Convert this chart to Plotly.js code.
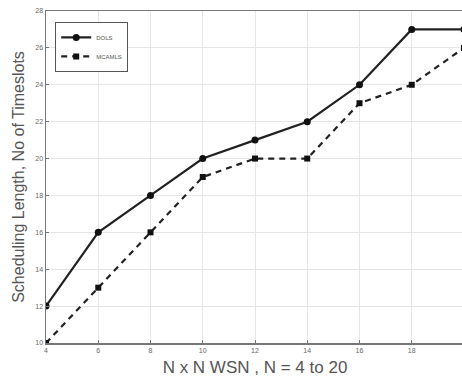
<!DOCTYPE html>
<html><head><meta charset="utf-8">
<script src="https://cdn.plot.ly/plotly-3.0.1.min.js"></script>
<style>html,body{margin:0;padding:0;background:#fff;overflow:hidden}</style>
</head><body><div id="chart" style="width:462px;height:383px;overflow:hidden"></div>
<script>
const nValues = [4, 6, 8, 10, 12, 14, 16, 18, 20];
const dols = [12, 16, 18, 20, 21, 22, 24, 27, 27];
const mcamls = [10, 13, 16, 19, 20, 20, 23, 24, 26];
const seriesNames = ['DOLS', 'MCAMLS'];
const xTicks = [4, 6, 8, 10, 12, 14, 16, 18, 20];
const yTicks = [10, 12, 14, 16, 18, 20, 22, 24, 26, 28];

const traces = [
  {x: nValues, y: dols, name: seriesNames[0], mode: 'lines+markers', type: 'scatter',
   line: {color: '#222', width: 2.2}, marker: {color: '#111', size: 7, symbol: 'circle'}},
  {x: nValues, y: mcamls, name: seriesNames[1], mode: 'lines+markers', type: 'scatter',
   line: {color: '#222', width: 2.2, dash: '6px,5px'}, marker: {color: '#111', size: 6, symbol: 'square'}}
];
const layout = {
  width: 464, height: 383,
  margin: {l: 46, r: 0, t: 11, b: 40},
  paper_bgcolor: '#fff', plot_bgcolor: '#fff',
  font: {family: 'Liberation Sans, Arial, sans-serif', color: '#444'},
  showlegend: true,
  legend: {x: 0.022, y: 0.967, xanchor: 'left', yanchor: 'top', bgcolor: '#fff',
           bordercolor: '#555', borderwidth: 1, font: {size: 6, color: '#555'},
           tracegroupgap: 0, itemwidth: 30},
  xaxis: {range: [4, 20], tickvals: xTicks, ticktext: xTicks.map(String),
          tickfont: {size: 7, color: '#666'}, showgrid: true, gridcolor: '#e6e6e6',
          showline: true, linecolor: '#777', linewidth: 1.5, mirror: true,
          ticks: 'inside', ticklen: 3, tickcolor: '#777', zeroline: false,
          title: {text: 'N x N WSN , N = 4 to 20', font: {size: 17, color: '#555'}, standoff: 8}},
  yaxis: {range: [10, 28], tickvals: yTicks, ticktext: yTicks.map(String),
          tickfont: {size: 7, color: '#666'}, showgrid: true, gridcolor: '#e6e6e6',
          showline: true, linecolor: '#777', linewidth: 1.5, mirror: true,
          ticks: 'inside', ticklen: 3, tickcolor: '#777', zeroline: false,
          title: {text: 'Scheduling Length, No of Timeslots', font: {size: 16, color: '#555'}, standoff: 6}}
};
Plotly.newPlot('chart', traces, layout, {displayModeBar: false, staticPlot: true});
</script></body></html>
